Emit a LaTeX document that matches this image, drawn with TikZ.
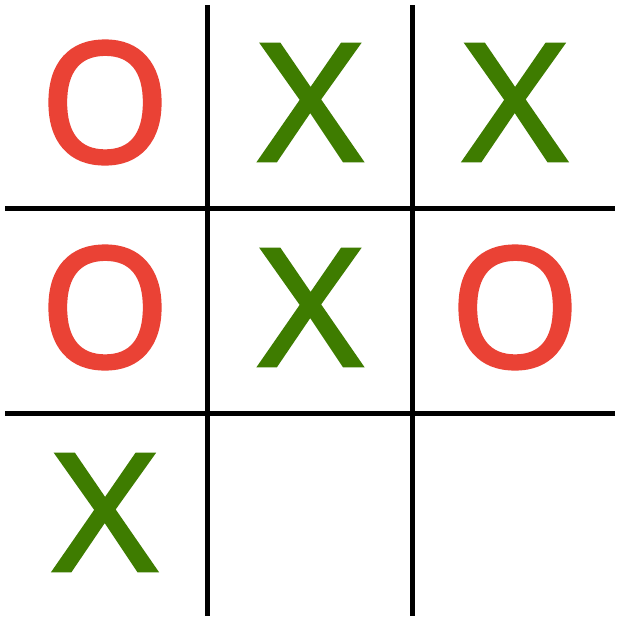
\documentclass[tikz,border=0pt]{standalone}
\usepackage{fontspec}
\newfontfamily\omarkfont{Open Sans}[FakeBold=2.5]
\newfontfamily\xmarkfont{Open Sans}[FakeBold=2.5,FakeStretch=1.09]
\definecolor{markred}{RGB}{234,66,53}
\definecolor{markgreen}{RGB}{62,124,0}
\begin{document}
\begin{tikzpicture}[x=1pt,y=-1pt,
  gridline/.style={line width=5.5pt,black,line cap=butt},
  omark/.style={inner sep=0pt,text=markred,font=\omarkfont\fontsize{166}{166}\selectfont},
  xmark/.style={inner sep=0pt,text=markgreen,font=\xmarkfont\fontsize{162}{162}\selectfont}]
\useasboundingbox[fill=white] (0,0) rectangle (636,629);
\draw[gridline] (207.5,5) -- (207.5,616);
\draw[gridline] (412.5,5) -- (412.5,616);
\draw[gridline] (5,208.5) -- (615,208.5);
\draw[gridline] (5,413.5) -- (615,413.5);
\node[omark] (c11) at (105,102.5) {O};
\node[xmark] (c12) at (310.5,102.5) {X};
\node[xmark] (c13) at (515,102.5) {X};
\node[omark] (c21) at (105,307.5) {O};
\node[xmark] (c22) at (310.5,307.5) {X};
\node[omark] (c23) at (515,307.5) {O};
\node[xmark] (c31) at (105,512.5) {X};
\end{tikzpicture}
\end{document}
